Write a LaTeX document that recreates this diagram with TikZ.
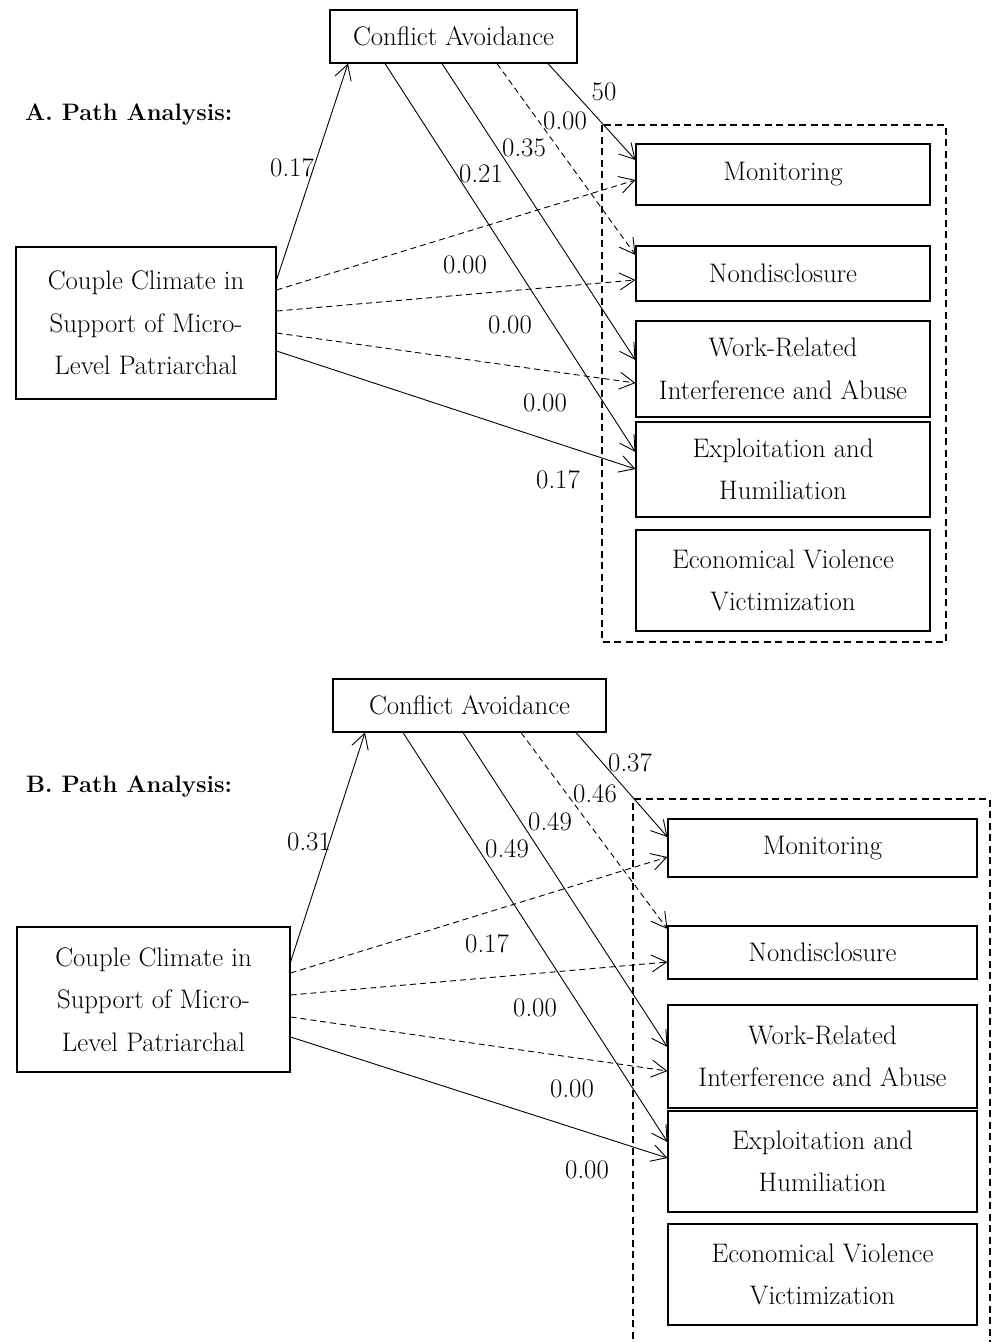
\documentclass[tikz,border=0pt]{standalone}
\usepackage{tikz}
\usetikzlibrary{arrows.meta}
\tikzset{
  vbox/.style={draw,line width=1.1pt,fill=white,align=center,inner sep=0pt,font=\fontsize{26.8}{42.5}\selectfont},
  obox/.style={vbox,line width=2.4pt},
  grp/.style={line width=1.8pt,dash pattern=on 7pt off 4.5pt},
  ar/.style={-{Straight Barb[length=15pt,width=17pt]},line width=0.9pt},
  dar/.style={ar,dash pattern=on 6pt off 4pt},
  cf/.style={font=\fontsize{26.8}{30}\selectfont,inner sep=0pt},
  ttl/.style={font=\fontsize{23.8}{28}\selectfont\bfseries,inner sep=0pt,anchor=west}
}

\begin{document}
\begin{tikzpicture}[x=1pt,y=-1pt]
\useasboundingbox (0,0) rectangle (995,1342);
% panel A
\node[ttl] (tA) at (25,115) {A. Path Analysis:};
\node[vbox,minimum width=247pt,minimum height=53pt] (caA) at (453.5,36.5) {Conflict Avoidance};
\node[vbox,minimum width=260pt,minimum height=152pt] (ccA) at (146,323) {Couple Climate in\\Support of Micro-\\Level Patriarchal};
\node[vbox,minimum width=294pt,minimum height=61pt] (monA) at (783,174.5) {Monitoring};
\node[vbox,minimum width=294pt,minimum height=55pt] (ndA) at (783,273.5) {Nondisclosure};
\node[vbox,minimum width=294pt,minimum height=96pt] (wrA) at (783,369) {Work-Related\\Interference and Abuse};
\node[vbox,minimum width=294pt,minimum height=95pt] (exA) at (783,469.5) {Exploitation and\\Humiliation};
\node[obox,minimum width=294pt,minimum height=101pt] (evA) at (783,580.5) {Economical Violence\\Victimization};
\draw[grp] (602,125) rectangle (946,642);
\draw[ar] (ccA.east |- 0,280) -- (caA.south -| 348,0);
\draw[ar] (caA.south -| 385,0) -- (exA.west |- 0,452);
\draw[ar] (caA.south -| 442,0) -- (wrA.west |- 0,360);
\draw[dar] (caA.south -| 497,0) -- (ndA.west |- 0,255);
\draw[ar] (caA.south -| 548,0) -- (monA.west |- 0,160);
\draw[dar] (ccA.east |- 0,290) -- (monA.west |- 0,180);
\draw[dar] (ccA.east |- 0,311) -- (ndA.west |- 0,280);
\draw[dar] (ccA.east |- 0,333) -- (wrA.west |- 0,383);
\draw[ar] (ccA.east |- 0,351) -- (exA.west |- 0,469);
\node[cf] (lAca) at (292,168) {0.17};
\node[cf] (lAex) at (481,174) {0.21};
\node[cf] (lAwr) at (524,148) {0.35};
\node[cf] (lAnd) at (565,121) {0.00};
\node[cf] (lAmo) at (604,92) {50};
\node[cf] (lAcm) at (465,265) {0.00};
\node[cf] (lAcn) at (510,325) {0.00};
\node[cf] (lAcw) at (545,403) {0.00};
\node[cf] (lAce) at (558,480) {0.17};
% panel B
\node[ttl] (tB) at (26,787) {B. Path Analysis:};
\node[vbox,minimum width=273pt,minimum height=53pt] (caB) at (469.5,705.5) {Conflict Avoidance};
\node[vbox,minimum width=273pt,minimum height=145pt] (ccB) at (153.5,999.5) {Couple Climate in\\Support of Micro-\\Level Patriarchal};
\node[vbox,minimum width=309pt,minimum height=58pt] (monB) at (822.5,848) {Monitoring};
\node[vbox,minimum width=309pt,minimum height=53pt] (ndB) at (822.5,952.5) {Nondisclosure};
\node[vbox,minimum width=309pt,minimum height=103pt] (wrB) at (822.5,1056.5) {Work-Related\\Interference and Abuse};
\node[vbox,minimum width=309pt,minimum height=101pt] (exB) at (822.5,1161.5) {Exploitation and\\Humiliation};
\node[obox,minimum width=309pt,minimum height=101pt] (evB) at (822.5,1274.5) {Economical Violence\\Victimization};
\draw[grp] (633,1350) -- (633,799) -- (990,799) -- (990,1350);
\draw[ar] (ccB.east |- 0,962) -- (caB.south -| 365,0);
\draw[ar] (caB.south -| 403,0) -- (exB.west |- 0,1142);
\draw[ar] (caB.south -| 463,0) -- (wrB.west |- 0,1047);
\draw[dar] (caB.south -| 521,0) -- (ndB.west |- 0,929);
\draw[ar] (caB.south -| 576,0) -- (monB.west |- 0,837);
\draw[dar] (ccB.east |- 0,973) -- (monB.west |- 0,857);
\draw[dar] (ccB.east |- 0,995) -- (ndB.west |- 0,962);
\draw[dar] (ccB.east |- 0,1017) -- (wrB.west |- 0,1071);
\draw[ar] (ccB.east |- 0,1037) -- (exB.west |- 0,1158);
\node[cf] (lBca) at (309,842) {0.31};
\node[cf] (lBex) at (507,849) {0.49};
\node[cf] (lBwr) at (550,822) {0.49};
\node[cf] (lBnd) at (595,794) {0.46};
\node[cf] (lBmo) at (630,763) {0.37};
\node[cf] (lBcm) at (487,944) {0.17};
\node[cf] (lBcn) at (535,1008) {0.00};
\node[cf] (lBcw) at (572,1089) {0.00};
\node[cf] (lBce) at (587,1170) {0.00};
\end{tikzpicture}
\end{document}
